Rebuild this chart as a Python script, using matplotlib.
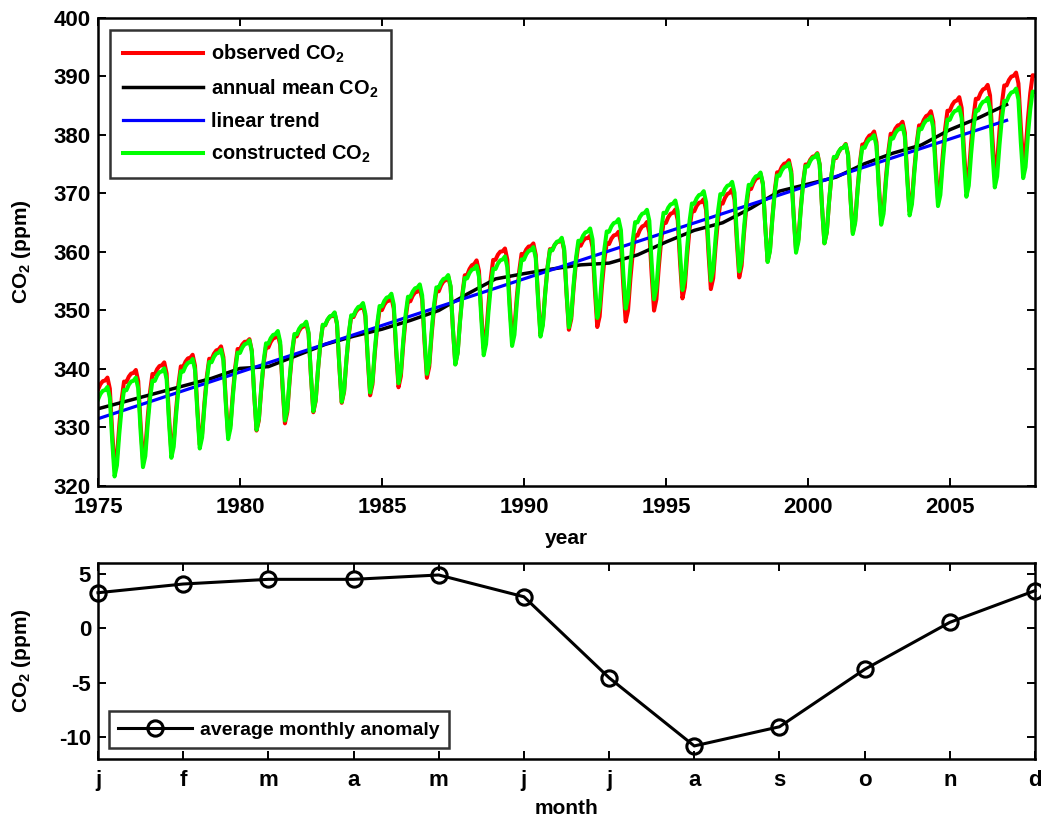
import numpy as np
import matplotlib
matplotlib.use("Agg")
import matplotlib.pyplot as plt

plt.rcParams['font.family'] = ['Liberation Sans', 'DejaVu Sans']
plt.rcParams['font.weight'] = 'bold'
plt.rcParams['axes.labelweight'] = 'bold'
plt.rcParams['axes.unicode_minus'] = False
plt.rcParams['mathtext.fontset'] = 'custom'
plt.rcParams['mathtext.rm'] = 'Liberation Sans:bold'
plt.rcParams['mathtext.it'] = 'Liberation Sans:bold'
plt.rcParams['mathtext.bf'] = 'Liberation Sans:bold'
plt.rcParams['mathtext.default'] = 'rm'

# ==========
# Donnees :
# ==========

# anomalie mensuelle moyenne (ppm), janvier -> decembre
mois = ['j', 'f', 'm', 'a', 'm', 'j', 'j', 'a', 's', 'o', 'n', 'd']
anomalie = [3.27, 4.07, 4.5, 4.5, 4.9, 2.9, -4.54, -10.8, -9.04, -3.77, 0.55, 3.46]

# moyenne annuelle (ppm), lue au 1er janvier de chaque annee
annees = list(range(1975, 2009))
moyenne_annuelle = [333.2, 334.5, 335.8, 337.1, 338.4, 340.1, 340.4, 342.3, 344.2, 345.6,
                    346.8, 348.3, 350.0, 352.8, 355.4, 356.3, 357.1, 357.8, 358.1, 359.5,
                    361.7, 363.7, 365.0, 367.5, 370.4, 371.6, 372.8, 375.1, 376.9, 378.3,
                    380.9, 382.9, 385.2, 386.9]
fin_moyenne = 2007

# tendance lineaire : extremites
tendance_annees = [1975, 2007]
tendance_valeurs = [331.5, 382.5]

# serie mensuelle 1975 -> 2008
nb_mois = 397
temps = 1975 + np.arange(nb_mois) / 12
anom_serie = np.array(anomalie)[np.arange(nb_mois) % 12]

pente = (tendance_valeurs[1] - tendance_valeurs[0]) / (tendance_annees[1] - tendance_annees[0])
tendance = tendance_valeurs[0] + pente * (temps - tendance_annees[0])
construit = tendance + anom_serie
observe = np.interp(temps, annees, moyenne_annuelle) + anom_serie

# ==========
# Figure :
# ==========

W, H = 1041, 821
TICK_FS = 16
TXT_FS = 15
LEG_FS = 14.4

fig = plt.figure(figsize=(W / 100, H / 100), dpi=100)
ax1 = fig.add_axes([98 / W, 1 - 486 / H, (1035 - 98) / W, (486 - 18) / H])
ax2 = fig.add_axes([98 / W, 1 - 759 / H, (1035 - 98) / W, (759 - 563) / H])

# panneau du haut
masque_moy = np.array(annees) <= fin_moyenne
masque_tend = temps <= tendance_annees[1]
ax1.plot(temps, observe, color='red', lw=2.9, label='observed CO$_2$')
ax1.plot(np.array(annees)[masque_moy], np.array(moyenne_annuelle)[masque_moy],
         color='black', lw=2.5, label='annual mean CO$_2$')
ax1.plot(temps[masque_tend], tendance[masque_tend], color='blue', lw=2.3, label='linear trend')
ax1.plot(temps, construit, color='#00ff00', lw=2.9, label='constructed CO$_2$')
ax1.set_xlim(1975, 2008)
ax1.set_ylim(320, 400)
ax1.set_xticks(range(1975, 2006, 5))
ax1.set_yticks(range(320, 401, 10))
ax1.set_xlabel('year', fontsize=TXT_FS, labelpad=8)
ax1.set_ylabel('CO$_2$ (ppm)', fontsize=TXT_FS)
leg1 = ax1.legend(loc='upper left', frameon=True, fancybox=False, handlelength=4.0,
                  handletextpad=0.4, borderaxespad=0.6, labelspacing=0.6,
                  borderpad=0.65, fontsize=LEG_FS)
leg1.get_frame().set_edgecolor('black')
leg1.get_frame().set_linewidth(1.8)

# panneau du bas
x_mois = np.arange(1, 13)
ax2.plot(x_mois, anomalie, color='black', lw=2.2, marker='o', ms=11, mfc='none',
         mew=2.2, clip_on=False, label='average monthly anomaly')
ax2.set_xlim(1, 12)
ax2.set_ylim(-12, 6)
ax2.set_xticks(x_mois)
ax2.set_xticklabels(mois)
ax2.set_yticks([-10, -5, 0, 5])
ax2.set_xlabel('month', fontsize=TXT_FS, labelpad=6)
ax2.set_ylabel('CO$_2$ (ppm)', fontsize=TXT_FS)
leg2 = ax2.legend(loc='lower left', frameon=True, fancybox=False, handlelength=3.8,
                  handletextpad=0.4, borderaxespad=0.55, borderpad=0.5, fontsize=14)
leg2.get_frame().set_edgecolor('black')
leg2.get_frame().set_linewidth(1.8)

for ax in (ax1, ax2):
    ax.tick_params(direction='in', length=6, width=1.4, top=True, right=True, pad=8,
                   labelsize=TICK_FS)
    ax.tick_params(axis='y', pad=5)
    ax.yaxis.set_label_coords(-65 / (1035 - 98), 0.5)
    for sp in ax.spines.values():
        sp.set_linewidth(1.8)

fig.savefig('out.png', dpi=100)
